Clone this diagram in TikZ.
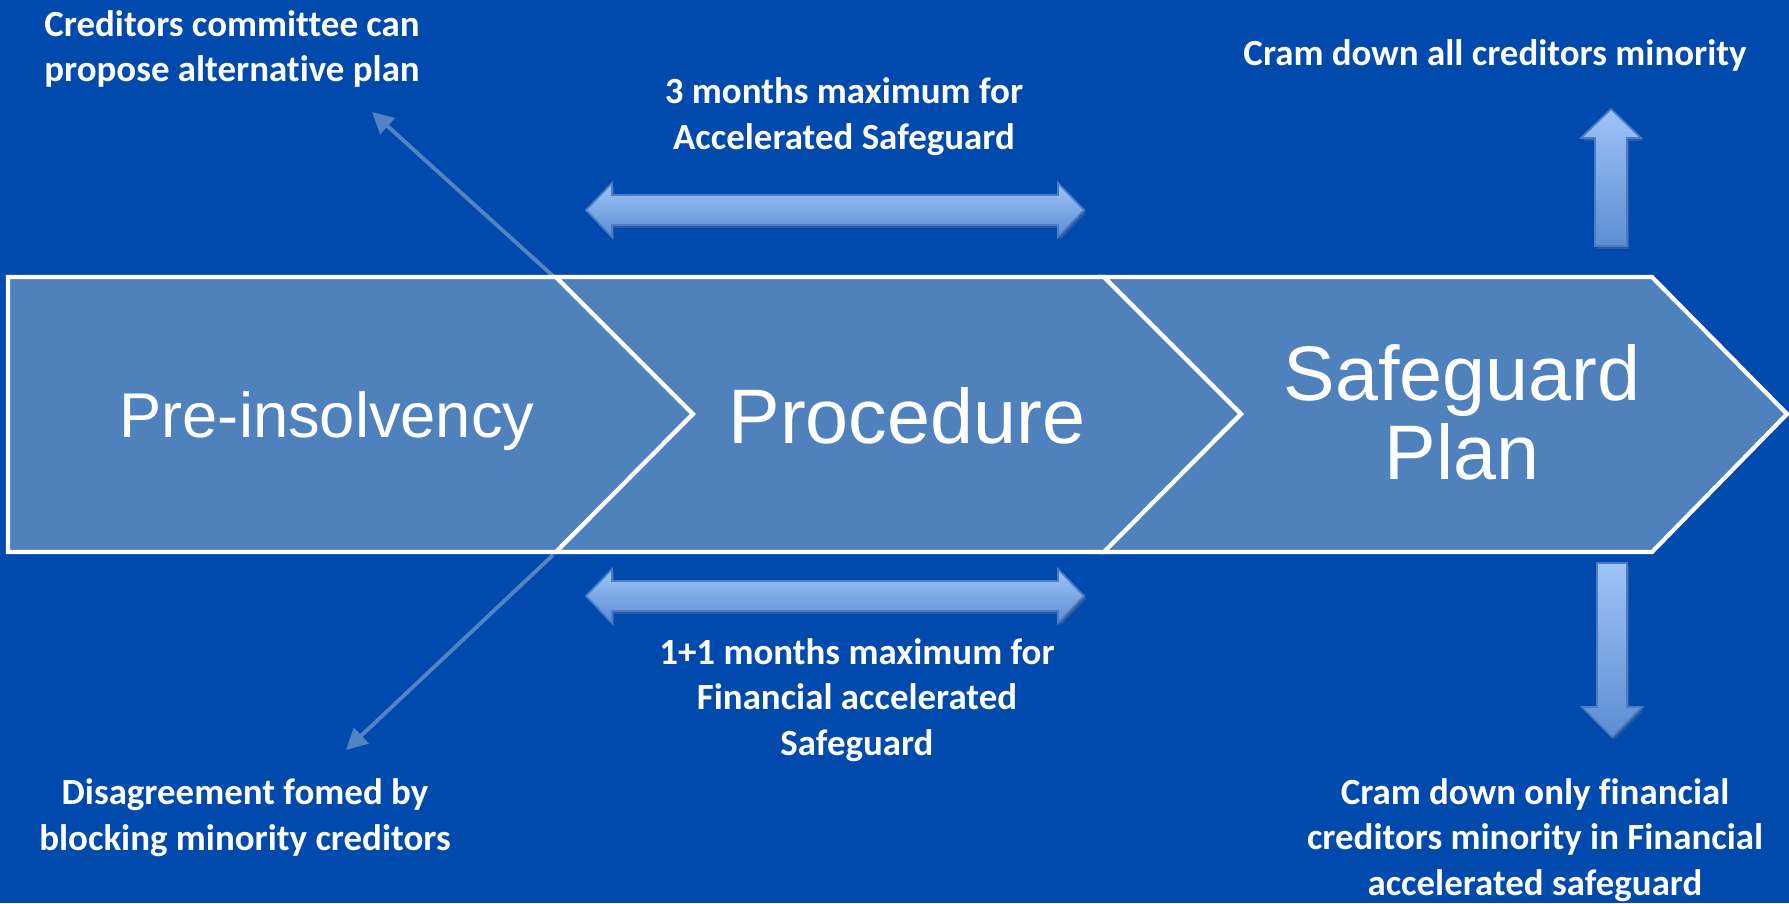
\documentclass[tikz,border=0pt]{standalone}
\usepackage{fontspec}
\setmainfont{Carlito}[Ligatures=NoCommon]
\newfontfamily\arialfont{Liberation Sans}
\usetikzlibrary{arrows.meta}
\usetikzlibrary{shadows}

\definecolor{bgblue}{HTML}{004AAD}
\definecolor{boxblue}{HTML}{4F81BD}
\definecolor{linkblue}{HTML}{5283C4}
\definecolor{barlight}{HTML}{9EC4F8}
\definecolor{bardark}{HTML}{5D8DD4}
\definecolor{baredge}{HTML}{4B7DC6}

\tikzset{
    note/.style={text=white, font=\bfseries\fontsize{10.5}{13}\selectfont, align=center},
    stage/.style={text=white, font=\arialfont\fontsize{22}{22.4}\selectfont, align=center},
    chevron/.style={fill=boxblue, draw=white, line width=1.2pt},
    link/.style={draw=linkblue, line width=1.1pt, -{Triangle[length=6pt,width=6pt]}},
    bar/.style={draw=baredge, line width=0.5pt, top color=barlight, bottom color=bardark,
        drop shadow={opacity=0.35, shadow xshift=0.6pt, shadow yshift=-0.8pt}}
}

\begin{document}
\begin{tikzpicture}[x=0.1mm, y=-0.1mm]
    \fill[bgblue] (0,0) rectangle (1789,903);
    \useasboundingbox (0,0) rectangle (1789,903);

    % Thin arrows out of the first joint
    \coordinate (jtop) at (553,276);
    \coordinate (jbot) at (553,555);
    \coordinate (credtip) at (372,112);
    \coordinate (disatip) at (346,750);
    \draw[link] (jtop) -- (credtip);
    \draw[link] (jbot) -- (disatip);

    % Chevrons
    \draw[chevron] (8,277) -- (556,277) -- (693,414) -- (556,552) -- (8,552) -- cycle;
    \draw[chevron] (556,277) -- (1104,277) -- (1241,414) -- (1104,552) -- (556,552) -- (693,414) -- cycle;
    \draw[chevron] (1104,277) -- (1652,277) -- (1787,414) -- (1652,552) -- (1104,552) -- (1241,414) -- cycle;

    \node[stage, font=\arialfont\fontsize{18}{18}\selectfont, anchor=base] (pre) at (327,437) {Pre-insolvency};
    \node[stage, anchor=base] (proc) at (907,443) {Procedure};
    \node[stage, anchor=base] (plan) at (1462,479) {Safeguard\\Plan};

    % Double arrows for the time limits
    \draw[bar, shift={(0,210)}] (586,0) -- (612,-27) -- (612,-15) -- (1058,-15) -- (1058,-27)
        -- (1084,0) -- (1058,27) -- (1058,15) -- (612,15) -- (612,27) -- cycle;
    \draw[bar, shift={(0,596)}] (586,0) -- (612,-27) -- (612,-15) -- (1058,-15) -- (1058,-27)
        -- (1084,0) -- (1058,27) -- (1058,15) -- (612,15) -- (612,27) -- cycle;

    % Cram down arrows
    \draw[bar, shift={(1611,0)}] (-16,246) -- (-16,138) -- (-30,138) -- (0,109) -- (30,138)
        -- (16,138) -- (16,246) -- cycle;
    \draw[bar, shift={(1612,0)}] (-15,563) -- (15,563) -- (15,707) -- (30,707) -- (0,737)
        -- (-30,707) -- (-15,707) -- cycle;

    % Labels
    \node[note] (credcom) at (232,49) {Creditors committee can\\propose alternative plan};
    \node[note] (disagree) at (245,818) {Disagreement fomed by\\blocking minority creditors};
    \node[note] (accel) at (844,117) {3 months maximum for\\Accelerated Safeguard};
    \node[note] (finaccel) at (857,700) {1+1 months maximum for\\Financial accelerated\\Safeguard};
    \node[note] (cramall) at (1495,55) {Cram down all creditors minority};
    \node[note] (cramfin) at (1535,840) {Cram down only financial\\creditors minority in Financial\\accelerated safeguard};
\end{tikzpicture}
\end{document}
